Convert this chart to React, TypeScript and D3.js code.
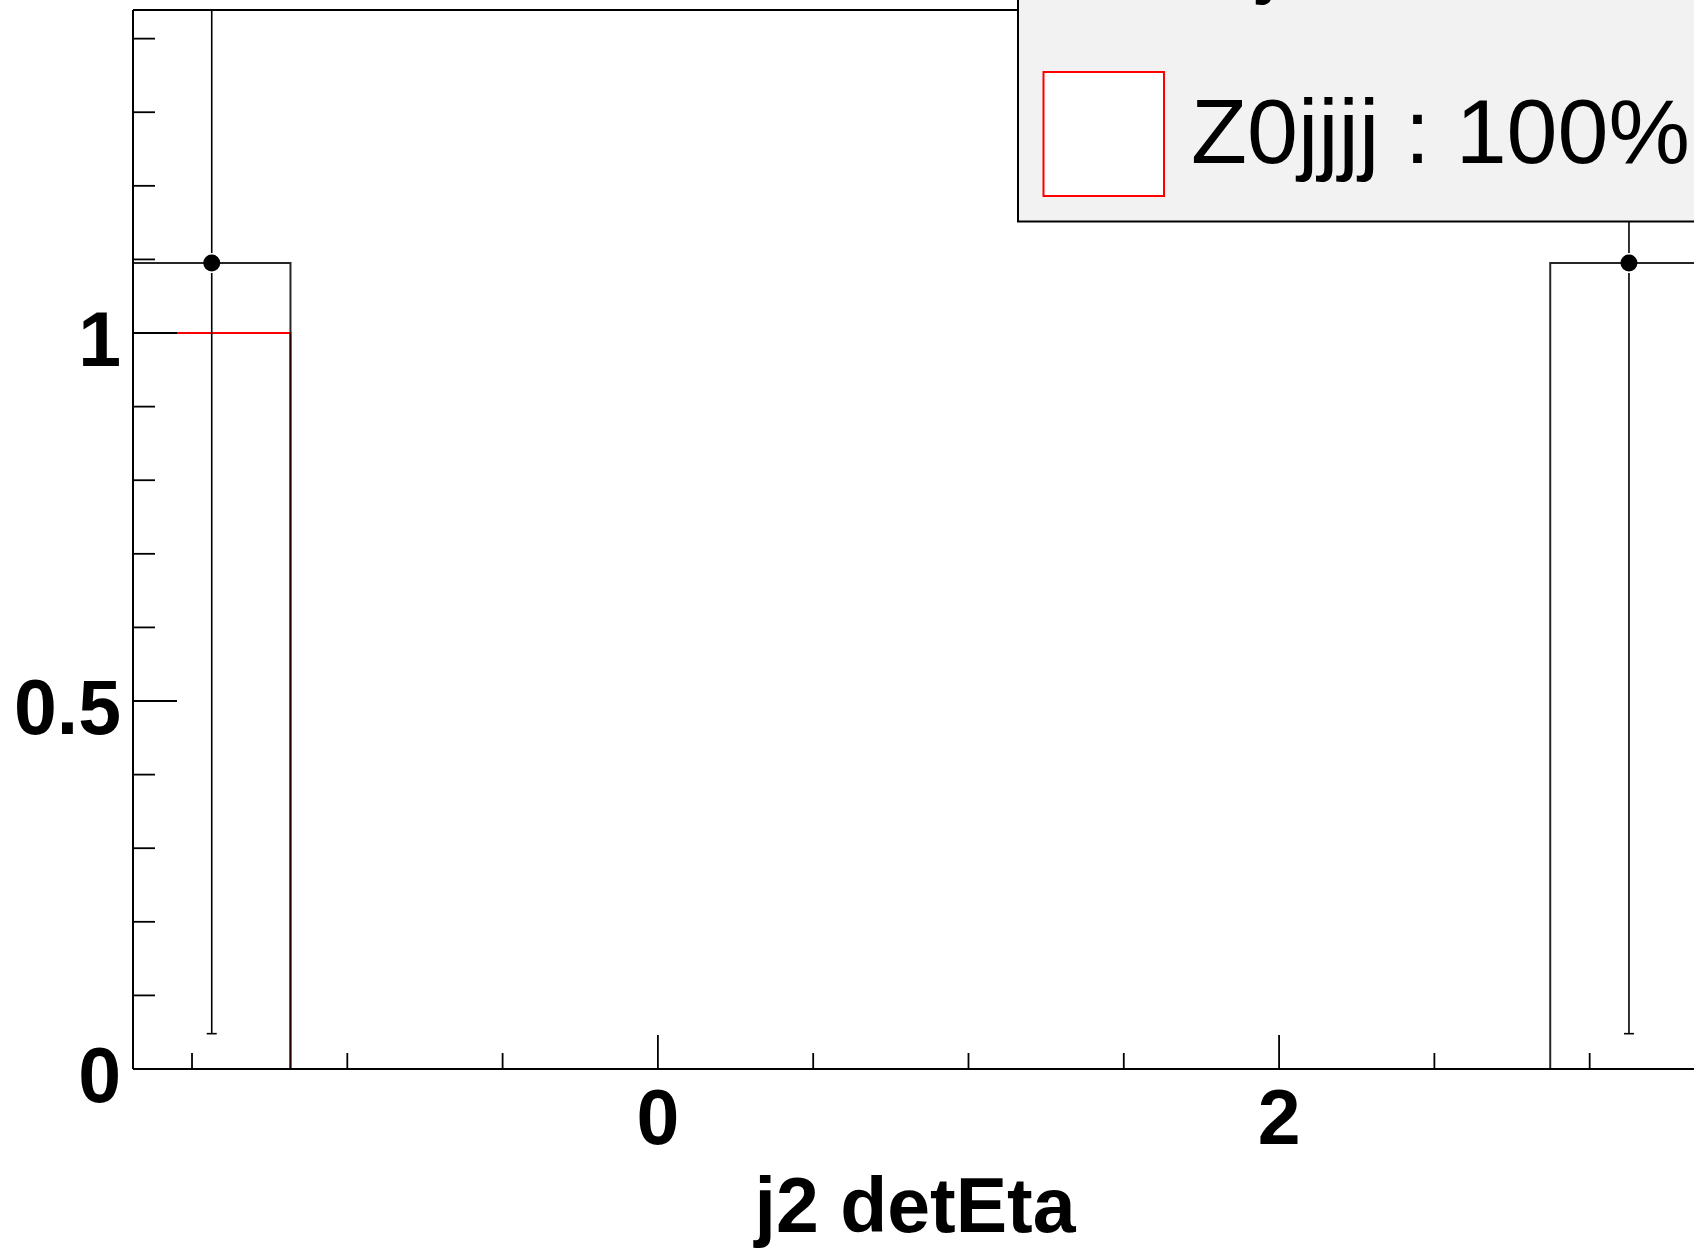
import React from "react";
import * as d3 from "d3";

// ---- data ----
const binEdges = [-1.69, -1.183, -0.676, -0.169, 0.338, 0.845, 1.352, 1.859, 2.366, 2.873, 3.38];
const dataValues = [1.095, 0, 0, 0, 0, 0, 0, 0, 0, 1.095];
const dataErrors = [1.047, 0, 0, 0, 0, 0, 0, 0, 0, 1.047];
const z0jjjjValues = [1.0, 0, 0, 0, 0, 0, 0, 0, 0, 0];
const xMajorTicks = [0, 2];
const xMinorTicks = [-1.5, -1, -0.5, 0.5, 1, 1.5, 2.5, 3];
const yMajorTicks = [0, 0.5, 1];
const yMinorTicks = [0.1, 0.2, 0.3, 0.4, 0.6, 0.7, 0.8, 0.9, 1.1, 1.2, 1.3, 1.4];
const xTitle = "j2 detEta";
const legendLabel = "Z0jjjj : 100%";

const W = 1694;
const H = 1249;
const FONT = "'Liberation Sans', Arial, Helvetica, sans-serif";

export default function App() {
  const x = d3.scaleLinear().domain([-1.69, 3.38]).range([133, 1707.7]);
  const y = d3.scaleLinear().domain([0, 1.4389]).range([1069, 10]);
  const [x0, x1] = x.range();
  const [yb, yt] = y.range();

  const stepPath = (vals: number[]) => {
    const p = d3.path();
    p.moveTo(x(binEdges[0]), y(0));
    vals.forEach((v, i) => {
      p.lineTo(x(binEdges[i]), y(v));
      p.lineTo(x(binEdges[i + 1]), y(v));
    });
    p.lineTo(x(binEdges[binEdges.length - 1]), y(0));
    return p.toString();
  };

  const centers = dataValues.map((_, i) => (binEdges[i] + binEdges[i + 1]) / 2);

  return (
    <svg
      width={W}
      height={H}
      style={{ position: "absolute", left: 0, top: 0, background: "#fff" }}
    >
      <defs>
        <clipPath id="frame">
          <rect x={x0} y={yt} width={x1 - x0} height={yb - yt} />
        </clipPath>
      </defs>
      <rect x={0} y={0} width={W} height={H} fill="#fff" />

      <g clipPath="url(#frame)">
        <path d={stepPath(z0jjjjValues)} fill="none" stroke="#ff0000" strokeWidth={2} />
        <path d={stepPath(dataValues)} fill="none" stroke="#000" strokeOpacity={0.85} strokeWidth={2} />
        {dataValues.map((v, i) => {
          if (v <= 0) return null;
          const cx = x(centers[i]);
          const cy = y(v);
          const lo = y(v - dataErrors[i]);
          const hi = y(v + dataErrors[i]);
          return (
            <g key={i}>
              <line x1={cx} x2={cx} y1={cy + 10} y2={lo} stroke="#000" strokeWidth={1.6} />
              <line x1={cx} x2={cx} y1={cy - 10} y2={hi} stroke="#000" strokeWidth={1.6} />
              <line x1={cx - 5} x2={cx + 5} y1={lo} y2={lo} stroke="#000" strokeWidth={1.6} />
              <circle cx={cx} cy={cy} r={8.5} fill="#000" />
            </g>
          );
        })}
      </g>

      {/* frame */}
      <line x1={x0} x2={x1} y1={yt} y2={yt} stroke="#000" strokeWidth={2} />
      <line x1={x1} x2={x1} y1={yt} y2={yb} stroke="#000" strokeWidth={2} />

      {/* y axis */}
      <line x1={x0} x2={x0} y1={yt} y2={yb} stroke="#000" strokeWidth={2} />
      {yMinorTicks.map((t) => (
        <line key={"ym" + t} x1={x0} x2={x0 + 22} y1={y(t)} y2={y(t)} stroke="#000" strokeWidth={1.8} />
      ))}
      {yMajorTicks.map((t) => (
        <g key={"yM" + t}>
          <line x1={x0} x2={x0 + 44} y1={y(t)} y2={y(t)} stroke="#000" strokeWidth={1.8} />
          <text
            x={x0 - 12}
            y={y(t) + 6}
            textAnchor="end"
            dominantBaseline="central"
            fontFamily={FONT}
            fontWeight="bold"
            fontSize={77}
            fill="#000"
          >
            {String(t)}
          </text>
        </g>
      ))}

      {/* x axis */}
      <line x1={x0} x2={x1} y1={yb} y2={yb} stroke="#000" strokeWidth={2} />
      {xMinorTicks.map((t) => (
        <line key={"xm" + t} x1={x(t)} x2={x(t)} y1={yb} y2={yb - 16} stroke="#000" strokeWidth={1.8} />
      ))}
      {xMajorTicks.map((t) => (
        <g key={"xM" + t}>
          <line x1={x(t)} x2={x(t)} y1={yb} y2={yb - 34} stroke="#000" strokeWidth={1.8} />
          <text
            x={x(t)}
            y={1117}
            textAnchor="middle"
            dominantBaseline="central"
            fontFamily={FONT}
            fontWeight="bold"
            fontSize={77}
            fill="#000"
          >
            {String(t)}
          </text>
        </g>
      ))}
      <text
        x={915}
        y={1232}
        textAnchor="middle"
        fontFamily={FONT}
        fontWeight="bold"
        fontSize={77}
        fill="#000"
      >
        {xTitle}
      </text>

      {/* legend */}
      <rect x={1018} y={-60} width={800} height={281.5} fill="#f2f2f2" stroke="#000" strokeWidth={2} />
      <text x={1258} y={-14} fontFamily={FONT} fontSize={91.6} fill="#000">j</text>
      <rect x={1043.5} y={72} width={120.5} height={124} fill="#fff" stroke="#ff0000" strokeWidth={2} />
      <text x={1191} y={163} fontFamily={FONT} fontSize={91.6} fill="#000">
        {legendLabel}
      </text>
    </svg>
  );
}
